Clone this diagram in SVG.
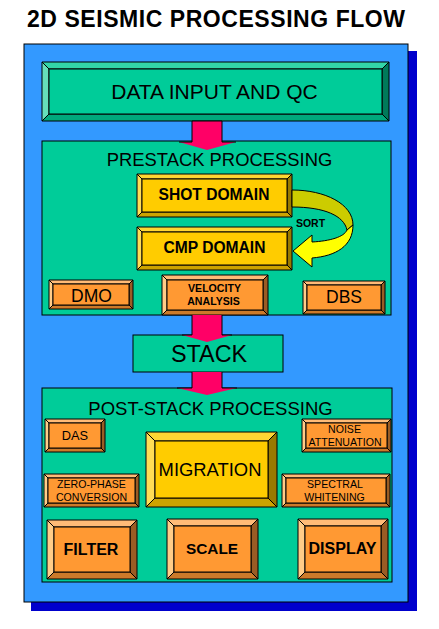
<svg xmlns="http://www.w3.org/2000/svg" width="439" height="629" viewBox="0 0 439 629">
<style>
text{font-family:"Liberation Sans",Arial,sans-serif;fill:#000;text-anchor:middle}
.b{font-weight:bold}
polygon,rect.f{stroke:#000;stroke-width:1;stroke-linejoin:round}
.tt{fill:#33d6a8}.tl{fill:#66e0bb}.tb{fill:#00a87c}.tr{fill:#007a5a}.tf{fill:#00cc99}
.yt{fill:#ffd633}.yl{fill:#ffdd55}.yb{fill:#cca300}.yr{fill:#997a00}.yf{fill:#ffcc00}
.ot{fill:#ffbb77}.ol{fill:#ffcc88}.ob{fill:#cc7a2a}.or{fill:#9a5c24}.of{fill:#ff9933}
.panel{fill:#00cc99;stroke:#000;stroke-width:1}
.pink{fill:#ff0066}
.edge{fill:none;stroke:#000;stroke-width:1}
</style>
<rect width="439" height="629" fill="#fff"/>
<g id="background">
<rect x="31" y="51" width="386" height="560" fill="#0000cc"/>
<rect x="24" y="44" width="384" height="558" fill="#3399ff" stroke="#000" stroke-width="1"/>
</g>
<text id="title" class="b" x="216" y="27" font-size="23" textLength="378" lengthAdjust="spacing">2D SEISMIC PROCESSING FLOW</text>

<g id="data-input">
<polygon class="tt" points="42,62 389,62 382,69 49,69"/>
<polygon class="tl" points="42,62 49,69 49,114 42,121"/>
<polygon class="tb" points="42,121 49,114 382,114 389,121"/>
<polygon class="tr" points="389,62 389,121 382,114 382,69"/>
<rect class="f tf" x="49" y="69" width="333" height="45"/>
<text x="214.5" y="99" font-size="21">DATA INPUT AND QC</text>
</g>

<g id="prestack">
<rect class="panel" x="42" y="141" width="349" height="174"/>
<text x="219.5" y="166" font-size="18.4">PRESTACK PROCESSING</text>
</g>

<g id="shot-domain">
<polygon class="yt" points="137,174 292,174 287,179 142,179"/>
<polygon class="yl" points="137,174 142,179 142,212 137,217"/>
<polygon class="yb" points="137,217 142,212 287,212 292,217"/>
<polygon class="yr" points="292,174 292,217 287,212 287,179"/>
<rect class="f yf" x="142" y="179" width="145" height="33"/>
<text class="b" x="214" y="200" font-size="15.6">SHOT DOMAIN</text>
</g>

<g id="cmp-domain">
<polygon class="yt" points="137,227 292,227 287,232 142,232"/>
<polygon class="yl" points="137,227 142,232 142,265 137,270"/>
<polygon class="yb" points="137,270 142,265 287,265 292,270"/>
<polygon class="yr" points="292,227 292,270 287,265 287,232"/>
<rect class="f yf" x="142" y="232" width="145" height="33"/>
<text class="b" x="214.5" y="253" font-size="15.6">CMP DOMAIN</text>
</g>

<g id="dmo">
<polygon class="ot" points="49,280 133,280 129,284 53,284"/>
<polygon class="ol" points="49,280 53,284 53,305 49,309"/>
<polygon class="ob" points="49,309 53,305 129,305 133,309"/>
<polygon class="or" points="133,280 133,309 129,305 129,284"/>
<rect class="f of" x="53" y="284" width="76" height="21"/>
<text x="91.5" y="302" font-size="17.5">DMO</text>
</g>

<g id="velocity-analysis">
<polygon class="ot" points="162,275 268,275 263,280 167,280"/>
<polygon class="ol" points="162,275 167,280 167,310 162,315"/>
<polygon class="ob" points="162,315 167,310 263,310 268,315"/>
<polygon class="or" points="268,275 268,315 263,310 263,280"/>
<rect class="f of" x="167" y="280" width="96" height="30"/>
<text class="b" x="214.5" y="292" font-size="10.6">VELOCITY</text>
<text class="b" x="213.5" y="305" font-size="10.6">ANALYSIS</text>
</g>

<g id="dbs">
<polygon class="ot" points="303,281 385,281 381,285 307,285"/>
<polygon class="ol" points="303,281 307,285 307,310 303,314"/>
<polygon class="ob" points="303,314 307,310 381,310 385,314"/>
<polygon class="or" points="385,281 385,314 381,310 381,285"/>
<rect class="f of" x="307" y="285" width="74" height="25"/>
<text x="344" y="303" font-size="17.5">DBS</text>
</g>

<g id="stack">
<rect class="panel" x="133" y="335" width="150" height="37"/>
<text x="209" y="362" font-size="23.4">STACK</text>
</g>

<g id="poststack">
<rect class="panel" x="42" y="388" width="350" height="194"/>
<text x="210.5" y="415" font-size="18.5">POST-STACK PROCESSING</text>
</g>

<g id="das">
<polygon class="ot" points="45,419 105,419 101,423 49,423"/>
<polygon class="ol" points="45,419 49,423 49,448 45,452"/>
<polygon class="ob" points="45,452 49,448 101,448 105,452"/>
<polygon class="or" points="105,419 105,452 101,448 101,423"/>
<rect class="f of" x="49" y="423" width="52" height="25"/>
<text x="75" y="440" font-size="12.8">DAS</text>
</g>

<g id="noise-attenuation">
<polygon class="ot" points="302,419 391,419 387,423 306,423"/>
<polygon class="ol" points="302,419 306,423 306,448 302,452"/>
<polygon class="ob" points="302,452 306,448 387,448 391,452"/>
<polygon class="or" points="391,419 391,452 387,448 387,423"/>
<rect class="f of" x="306" y="423" width="81" height="25"/>
<text x="344.5" y="433" font-size="10.6">NOISE</text>
<text x="345" y="446" font-size="10.6">ATTENUATION</text>
</g>

<g id="migration">
<polygon class="yt" points="146,432 277,432 268,441 155,441"/>
<polygon class="yl" points="146,432 155,441 155,498 146,507"/>
<polygon class="yb" points="146,507 155,498 268,498 277,507"/>
<polygon class="yr" points="277,432 277,507 268,498 268,441"/>
<rect class="f yf" x="155" y="441" width="113" height="57"/>
<text x="210" y="476" font-size="18.4">MIGRATION</text>
</g>

<g id="zero-phase">
<polygon class="ot" points="44,474 139,474 135,478 48,478"/>
<polygon class="ol" points="44,474 48,478 48,503 44,507"/>
<polygon class="ob" points="44,507 48,503 135,503 139,507"/>
<polygon class="or" points="139,474 139,507 135,503 135,478"/>
<rect class="f of" x="48" y="478" width="87" height="25"/>
<text x="91.5" y="488" font-size="10.6">ZERO-PHASE</text>
<text x="91.5" y="501" font-size="10.6">CONVERSION</text>
</g>

<g id="spectral-whitening">
<polygon class="ot" points="282,474 390,474 386,478 286,478"/>
<polygon class="ol" points="282,474 286,478 286,503 282,507"/>
<polygon class="ob" points="282,507 286,503 386,503 390,507"/>
<polygon class="or" points="390,474 390,507 386,503 386,478"/>
<rect class="f of" x="286" y="478" width="100" height="25"/>
<text x="335" y="488" font-size="10.6">SPECTRAL</text>
<text x="334.5" y="501" font-size="10.6">WHITENING</text>
</g>

<g id="filter">
<polygon class="ot" points="47,520 137,520 130,527 54,527"/>
<polygon class="ol" points="47,520 54,527 54,572 47,579"/>
<polygon class="ob" points="47,579 54,572 130,572 137,579"/>
<polygon class="or" points="137,520 137,579 130,572 130,527"/>
<rect class="f of" x="54" y="527" width="76" height="45"/>
<text class="b" x="91" y="555" font-size="16">FILTER</text>
</g>

<g id="scale">
<polygon class="ot" points="167,519 258,519 251,526 174,526"/>
<polygon class="ol" points="167,519 174,526 174,572 167,579"/>
<polygon class="ob" points="167,579 174,572 251,572 258,579"/>
<polygon class="or" points="258,519 258,579 251,572 251,526"/>
<rect class="f of" x="174" y="526" width="77" height="46"/>
<text class="b" x="212" y="554" font-size="15.4">SCALE</text>
</g>

<g id="display">
<polygon class="ot" points="298,519 388,519 381,526 305,526"/>
<polygon class="ol" points="298,519 305,526 305,572 298,579"/>
<polygon class="ob" points="298,579 305,572 381,572 388,579"/>
<polygon class="or" points="388,519 388,579 381,572 381,526"/>
<rect class="f of" x="305" y="526" width="76" height="46"/>
<text class="b" x="342.5" y="554" font-size="16">DISPLAY</text>
</g>

<g id="connectors">
<g id="arrow-input-prestack">
<path class="pink" d="M192,121 H222 V142 H236 L207,150 L179,142 H192 Z"/>
<path class="edge" d="M192,121 V142 L179,142 M222,121 V142 L236,142 M192,121 H222"/>
</g>
<g id="arrow-prestack-stack">
<path class="pink" d="M192,315 H222 V335 H232 L207,342 L182,335 H192 Z"/>
<path class="edge" d="M192,315 V335 L182,335 M222,315 V335 L232,335"/>
</g>
<g id="arrow-stack-poststack">
<path class="pink" d="M192,372 H222 V388 H237 L207,395 L177,388 H192 Z"/>
<path class="edge" d="M192,372 V388 L177,388 M222,372 V388 L237,388"/>
</g>
<g id="sort-arrow">
<path d="M292,190 C325,190 353,204 353,225 L347,230 C344,216 325,207 292,207 Z" fill="#cccc00" stroke="#000" stroke-width="1"/>
<path d="M353,225 C353,246 336,256 312,258 L312,267 L293,251 L312,235 L312,242 C330,241 344,237 347,230 Z" fill="#ffff00" stroke="#000" stroke-width="1" stroke-linejoin="round"/>
<text class="b" x="310.5" y="227" font-size="10.5">SORT</text>
</g>
</g>
</svg>
